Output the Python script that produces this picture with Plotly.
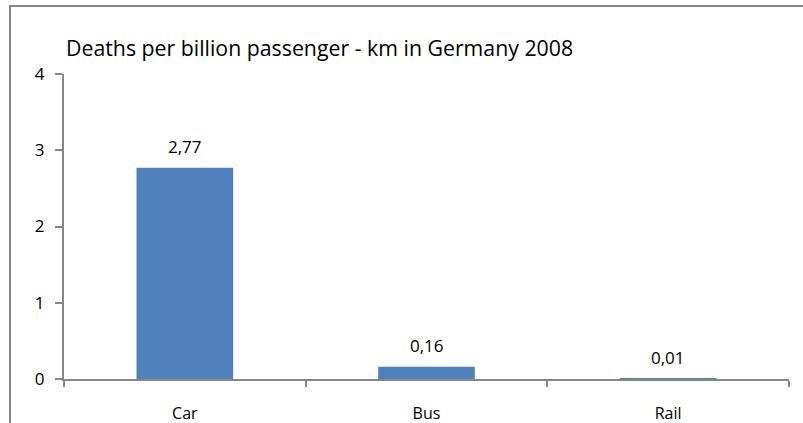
import plotly.graph_objects as go

categories = ["Car", "Bus", "Rail"]
deaths = [2.77, 0.16, 0.01]
y_ticks = [0, 1, 2, 3, 4]
title_text = "Deaths per billion passenger - km in Germany 2008"

axis_grey = "#868686"
bar_blue = "#4F81BD"
font_family = "'Open Sans', Lato, sans-serif"

W, H = 803, 423
L, R, T, B = 64, 14, 74, 44
pw, ph = W - L - R, H - T - B

fig = go.Figure(
    go.Bar(
        x=categories,
        y=deaths,
        marker=dict(color=bar_blue, line=dict(width=0)),
        width=0.4,
        hoverinfo="skip",
    )
)

# value labels above each bar, German decimal comma
for c, v in zip(categories, deaths):
    fig.add_annotation(
        x=c, y=v, text=f"{v:.2f}".replace(".", ","),
        showarrow=False, yanchor="middle", yshift=21,
        font=dict(family=font_family, size=17, color="#000000"),
    )

# chart title
fig.add_annotation(
    xref="paper", yref="paper",
    x=(64 - L) / pw, y=(H - B - 48) / ph,
    xanchor="left", yanchor="middle",
    text=title_text, showarrow=False,
    font=dict(family=font_family, size=21.3, color="#000000"),
)

# outer chart frame: left and top edges (the others fall outside the page)
frame_x = (10 - L) / pw
frame_top = (H - B - 5) / ph
fig.add_shape(
    type="rect", xref="paper", yref="paper",
    x0=frame_x - 1 / pw, x1=(W - L) / pw,
    y0=frame_top - 2 / ph, y1=frame_top,
    line=dict(width=0), fillcolor=axis_grey, layer="above",
)
fig.add_shape(
    type="rect", xref="paper", yref="paper",
    x0=frame_x - 1 / pw, x1=frame_x + 1 / pw,
    y0=(H - B - H) / ph, y1=frame_top,
    line=dict(width=0), fillcolor=axis_grey, layer="above",
)

fig.update_layout(
    width=W, height=H,
    margin=dict(l=L, r=R, t=T, b=B, autoexpand=False),
    paper_bgcolor="white", plot_bgcolor="white",
    showlegend=False,
    bargap=0.6,
    font=dict(family=font_family, size=16, color="#000000"),
)
fig.update_xaxes(
    type="category", automargin=False,
    showline=True, linecolor=axis_grey, linewidth=2,
    ticks="outside", tickson="boundaries", ticklen=6,
    tickcolor=axis_grey, tickwidth=2,
    showgrid=False, zeroline=False,
    tickfont=dict(size=16),
    ticklabelstandoff=19,
)
fig.update_yaxes(
    range=[0, 4], tickvals=y_ticks, automargin=False,
    showline=True, linecolor=axis_grey, linewidth=2,
    ticks="outside", ticklen=7, tickcolor=axis_grey, tickwidth=2,
    showgrid=False, zeroline=False,
    tickfont=dict(size=17),
    ticklabelstandoff=7,
)

fig.write_html("out.html", config={"displayModeBar": False})
